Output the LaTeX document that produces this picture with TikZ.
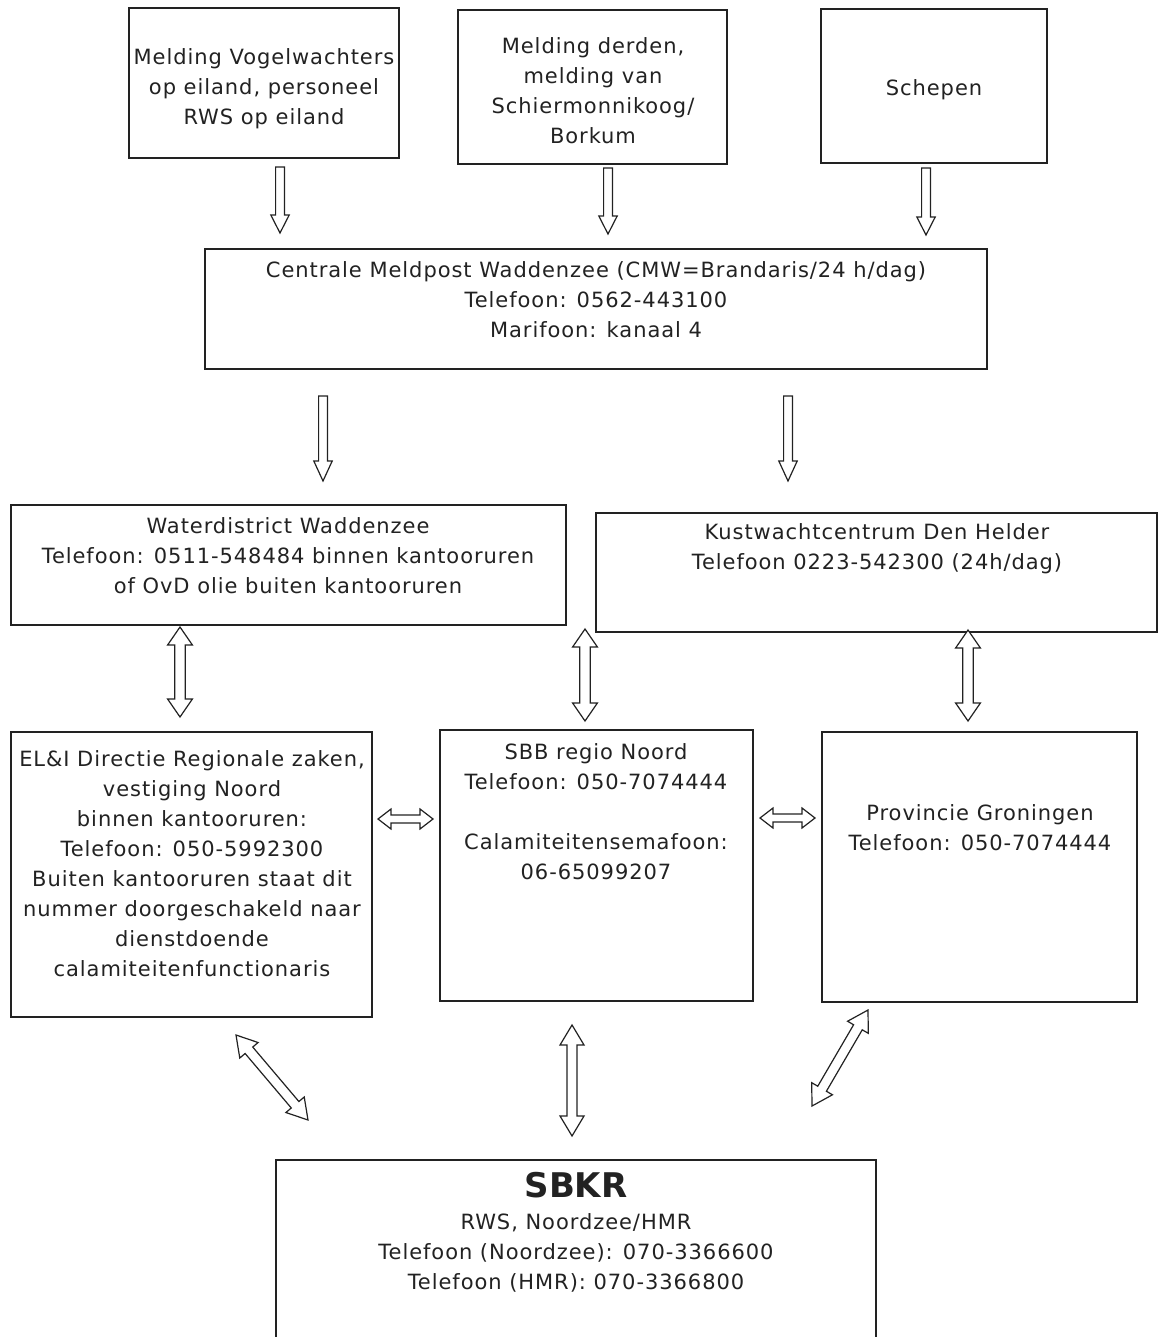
\documentclass[tikz,border=0pt]{standalone}
\usepackage{fontspec}
\setmainfont{DejaVu Sans}[LetterSpace=4.5]
\newfontfamily\headfont{DejaVu Sans}
\usetikzlibrary{calc,fit}
\definecolor{ink}{HTML}{222222}
\tikzset{
  box/.style={draw=ink, line width=0.8pt, inner sep=0pt, rectangle},
  txt/.style={align=center, text=ink, inner sep=0pt, font=\fontsize{10.5}{15}\selectfont},
  arr/.style={draw=ink, line width=0.6pt, fill=white, line join=miter}
}
% single hollow block arrow: from #1 to #2, half shaft #3, half head #4, head length #5
\newcommand\sblock[5]{%
  \coordinate (hb) at ($(#2)!#5!(#1)$);
  \draw[arr] ($(#1)!#3!90:(#2)$) -- ($(hb)!#3!-90:(#1)$) -- ($(hb)!#4!-90:(#1)$) -- (#2)
    -- ($(hb)!#4!90:(#1)$) -- ($(hb)!#3!90:(#1)$) -- ($(#1)!#3!-90:(#2)$) -- cycle;}
% double hollow block arrow
\newcommand\dblock[5]{%
  \coordinate (hb) at ($(#2)!#5!(#1)$);
  \coordinate (ha) at ($(#1)!#5!(#2)$);
  \draw[arr] (#1) -- ($(ha)!#4!90:(#2)$) -- ($(ha)!#3!90:(#2)$) -- ($(hb)!#3!-90:(#1)$)
    -- ($(hb)!#4!-90:(#1)$) -- (#2) -- ($(hb)!#4!90:(#1)$) -- ($(hb)!#3!90:(#1)$)
    -- ($(ha)!#3!-90:(#2)$) -- ($(ha)!#4!-90:(#2)$) -- cycle;}
\begin{document}
\begin{tikzpicture}[x=0.5pt,y=-0.5pt]
\useasboundingbox (0,0) rectangle (1158,1337);
\fill[white] (0,0) rectangle (1158,1337);
\clip (0,0) rectangle (1158,1337);

% boxes
\node[box, fit={(129,8) (399,158)}] (b1) {};
\node[box, fit={(458,10) (727,164)}] (b2) {};
\node[box, fit={(821,9) (1047,163)}] (b3) {};
\node[box, fit={(205,249) (987,369)}] (cmw) {};
\node[box, fit={(11,505) (566,625)}] (wd) {};
\node[box, fit={(596,513) (1157,632)}] (kw) {};
\node[box, fit={(11,732) (372,1017)}] (eli) {};
\node[box, fit={(440,730) (753,1001)}] (sbb) {};
\node[box, fit={(822,732) (1137,1002)}] (pg) {};
\node[box, fit={(276,1160) (876,1360)}] (sbkr) {};

% texts
\node[txt] (b1t) at (264,89) {Melding Vogelwachters\\op eiland, personeel\\RWS op eiland};
\node[txt] (b2t) at (593,91) {Melding derden,\\melding van\\Schiermonnikoog/\\Borkum};
\node[txt] (b3t) at (934,90) {Schepen};
\node[txt] (cmwt) at (596,300) {Centrale Meldpost Waddenzee (CMW=Brandaris/24 h/dag)\\Telefoon: 0562-443100\\Marifoon: kanaal 4};
\node[txt] (wdt) at (288,556) {Waterdistrict Waddenzee\\Telefoon: 0511-548484 binnen kantooruren\\of OvD olie buiten kantooruren};
\node[txt] (kwt) at (877,549) {Kustwachtcentrum Den Helder\\Telefoon 0223-542300 (24h/dag)};
\node[txt] (elit) at (192,864) {EL\&I Directie Regionale zaken,\\vestiging Noord\\binnen kantooruren:\\Telefoon: 050-5992300\\Buiten kantooruren staat dit\\nummer doorgeschakeld naar\\dienstdoende\\calamiteitenfunctionaris};
\node[txt] (sbbt) at (596,812) {SBB regio Noord\\Telefoon: 050-7074444\\[15pt]Calamiteitensemafoon:\\06-65099207};
\node[txt] (pgt) at (980,828) {Provincie Groningen\\Telefoon: 050-7074444};
\node[txt, font=\headfont\bfseries\fontsize{17}{20}\selectfont] (sbkrh) at (576,1185) {SBKR};
\node[txt] (sbkrt) at (576,1253) {RWS, Noordzee/HMR\\Telefoon (Noordzee): 070-3366600\\Telefoon (HMR): 070-3366800};

% arrow end points
\coordinate (a1s) at (280,167);  \coordinate (a1e) at (280,233);
\coordinate (a2s) at (608,168);  \coordinate (a2e) at (608,234);
\coordinate (a3s) at (926,168);  \coordinate (a3e) at (926,235);
\coordinate (a4s) at (323,396);  \coordinate (a4e) at (323,481);
\coordinate (a5s) at (788,396);  \coordinate (a5e) at (788,481);
\coordinate (d1s) at (180,627);  \coordinate (d1e) at (180,717);
\coordinate (d2s) at (585,629);  \coordinate (d2e) at (585,721);
\coordinate (d3s) at (968,630);  \coordinate (d3e) at (968,721);
\coordinate (h1s) at (378,819);  \coordinate (h1e) at (433,819);
\coordinate (h2s) at (760,818);  \coordinate (h2e) at (815,818);
\coordinate (g1s) at (236,1035); \coordinate (g1e) at (308,1120);
\coordinate (g2s) at (572,1025); \coordinate (g2e) at (572,1136);
\coordinate (g3s) at (868,1010); \coordinate (g3e) at (812,1106);

\sblock{a1s}{a1e}{2.2pt}{4.6pt}{9pt}
\sblock{a2s}{a2e}{2.2pt}{4.6pt}{9pt}
\sblock{a3s}{a3e}{2.2pt}{4.6pt}{9pt}
\sblock{a4s}{a4e}{2.2pt}{4.6pt}{10pt}
\sblock{a5s}{a5e}{2.2pt}{4.6pt}{10pt}
\dblock{d1s}{d1e}{2.6pt}{6.2pt}{9pt}
\dblock{d2s}{d2e}{2.6pt}{6.2pt}{9pt}
\dblock{d3s}{d3e}{2.6pt}{6.2pt}{9pt}
\dblock{h1s}{h1e}{2pt}{5pt}{6.5pt}
\dblock{h2s}{h2e}{2pt}{5pt}{6.5pt}
\dblock{g1s}{g1e}{2.5pt}{6pt}{10pt}
\dblock{g2s}{g2e}{2.5pt}{6pt}{10pt}
\dblock{g3s}{g3e}{2.5pt}{6pt}{10pt}
\end{tikzpicture}
\end{document}
